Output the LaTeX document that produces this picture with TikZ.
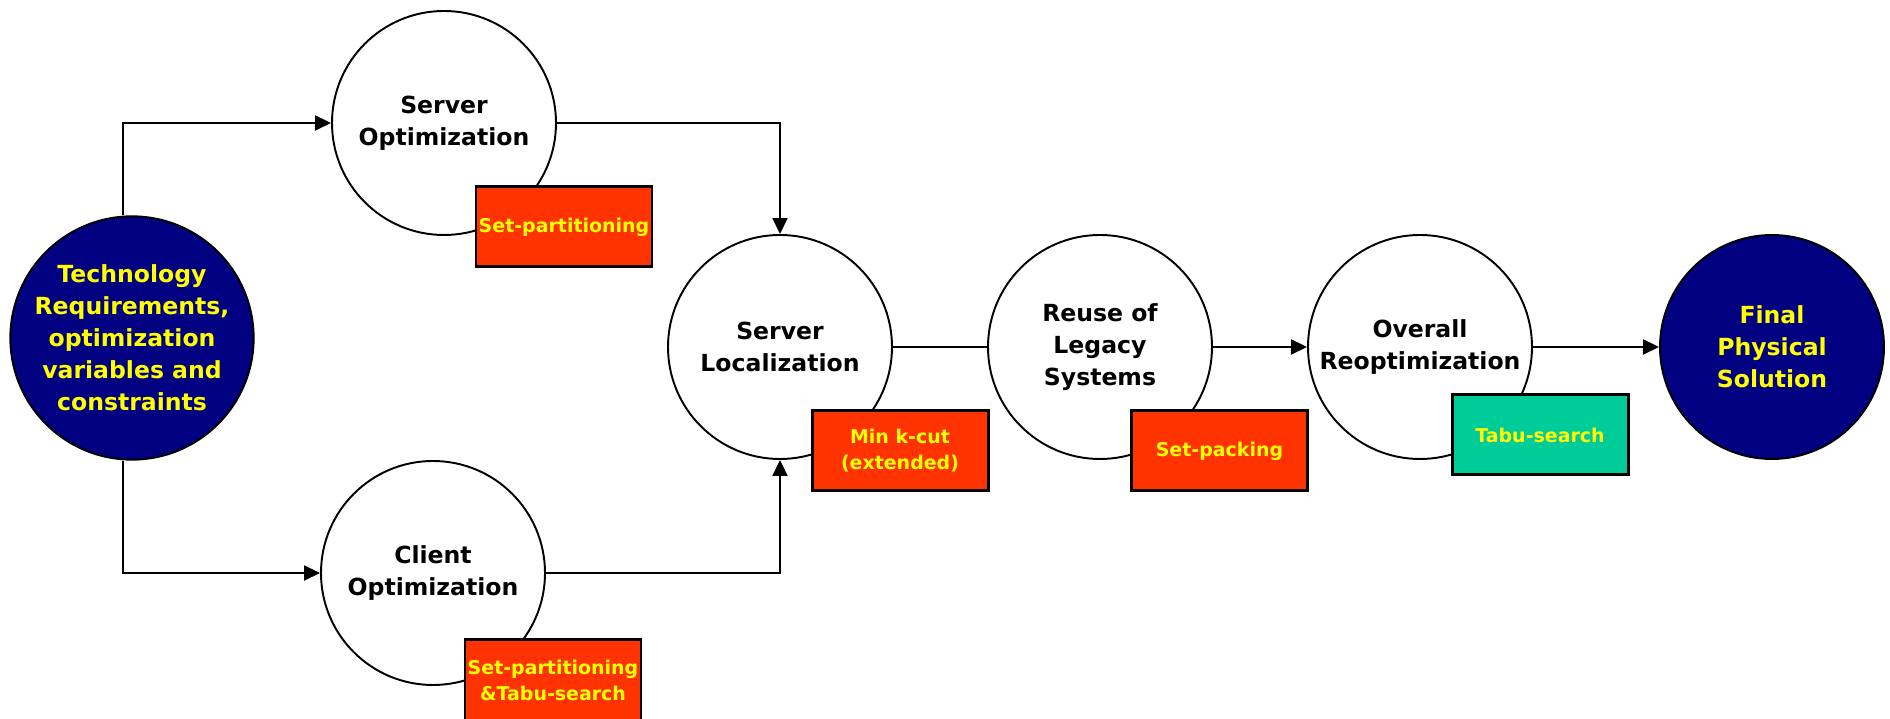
\documentclass[tikz,border=0pt]{standalone}
\usepackage{fontspec}
\setmainfont{DejaVu Sans}
\usepackage{xcolor}
\usetikzlibrary{arrows.meta}

\definecolor{navyfill}{HTML}{000080}
\definecolor{labelyellow}{HTML}{FFFF00}
\definecolor{methodred}{HTML}{FF3300}
\definecolor{methodgreen}{HTML}{00CC99}

\tikzset{
  phase/.style={circle, draw=black, line width=0.55pt, fill=white, minimum size=2.24cm,
    inner sep=0pt, align=center, font=\bfseries\fontsize{6.7}{9.1}\selectfont},
  endphase/.style={phase, fill=navyfill, text=labelyellow},
  method/.style={rectangle, draw=black, line width=0.85pt, fill=methodred, text=labelyellow,
    minimum width=1.76cm, minimum height=0.80cm, inner sep=0pt, align=center,
    font=\bfseries\fontsize{5.4}{7.4}\selectfont},
  flow/.style={line width=0.55pt, -{Triangle[length=0.16cm,width=0.15cm]}},
}

\begin{document}
\begin{tikzpicture}

    \useasboundingbox (0,0) rectangle (18.9,7.19);

    % Draw the phases
    \node[endphase, minimum size=2.4cm] (tech) at (1.32,3.81) {Technology\\Requirements,\\optimization\\variables and\\constraints};
    \node[phase] (srvopt) at (4.44,5.96) {Server\\Optimization};
    \node[phase] (cliopt) at (4.33,1.46) {Client\\Optimization};
    \node[phase] (srvloc) at (7.80,3.72) {Server\\Localization};
    \node[phase] (reuse) at (11.00,3.72) {Reuse of\\Legacy\\Systems};
    \node[phase] (overall) at (14.20,3.72) {Overall\\Reoptimization};
    \node[endphase] (final) at (17.72,3.72) {Final\\Physical\\Solution};

    % Draw the methods
    \node[method] (partA) at (5.64,4.92) {Set-partitioning};
    \node[method] (partB) at (5.53,0.39) {Set-partitioning\\\&Tabu-search};
    \node[method] (kcut) at (9.00,2.685) {Min k-cut\\(extended)};
    \node[method] (packing) at (12.195,2.68) {Set-packing};
    \node[method, fill=methodgreen] (tabu) at (15.40,2.84) {Tabu-search};

    % Draw the flow
    \draw[flow] ([xshift=-0.09cm]tech.north) |- (srvopt.west);
    \draw[flow] ([xshift=-0.09cm]tech.south) |- (cliopt.west);
    \draw[flow] (srvopt.east) -| (srvloc.north);
    \draw[flow] (cliopt.east) -| (srvloc.south);
    \draw[line width=0.55pt] (srvloc.east) -- (reuse.west);
    \draw[flow] (reuse.east) -- (overall.west);
    \draw[flow] (overall.east) -- (final.west);

\end{tikzpicture}
\end{document}
